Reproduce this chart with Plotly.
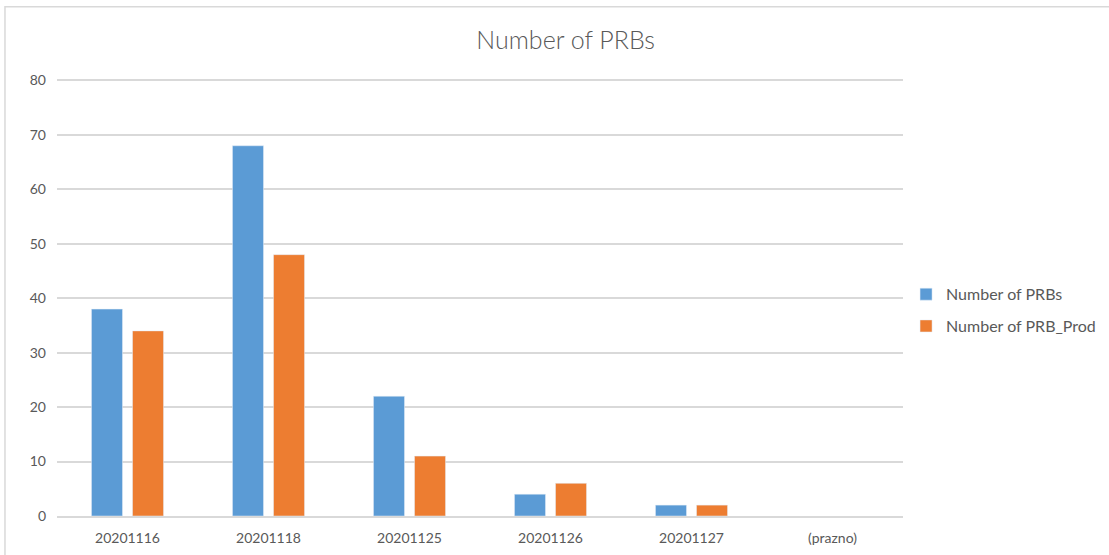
"""Number of PRBs per date, clustered bars in Excel style."""

import plotly.graph_objects as go

dates = ["20201116", "20201118", "20201125", "20201126", "20201127", "(prazno)"]
prbs = [38, 68, 22, 4, 2, None]
prb_prod = [34, 48, 11, 6, 2, None]

text_grey = "#595959"
grid_grey = "#D9D9D9"

fig = go.Figure()
fig.add_trace(go.Bar(x=dates, y=prbs, name="Number of PRBs",
                     marker_color="#5B9BD5", legendgroup="a"))
fig.add_trace(go.Bar(x=dates, y=prb_prod, name="Number of PRB_Prod",
                     marker_color="#ED7D31", legendgroup="b"))

# outer chart frame, as in the spreadsheet screenshot
fig.add_shape(
    type="rect", xref="paper", yref="paper",
    x0=-0.0615, x1=1.4, y0=-0.3, y1=1.155,
    line=dict(color=grid_grey, width=1.5), layer="below",
)

fig.update_layout(
    width=1109,
    height=555,
    title=dict(
        text="Number of PRBs", x=0.51, xanchor="center", y=0.928, yanchor="middle",
        font=dict(size=25, color=text_grey, weight=300),
    ),
    font=dict(family="Lato, Noto Sans, sans-serif", size=14, color=text_grey),
    barmode="group",
    bargap=0.418,
    bargroupgap=0.244,
    plot_bgcolor="white",
    paper_bgcolor="white",
    margin=dict(l=57, r=206, t=75, b=39),
    xaxis=dict(
        showgrid=False, showline=True, linecolor=grid_grey, linewidth=1.5,
        ticks="", ticklabelstandoff=8, automargin=False,
    ),
    yaxis=dict(
        range=[0, 81], tickvals=[0, 10, 20, 30, 40, 50, 60, 70, 80],
        showgrid=True, gridcolor=grid_grey, gridwidth=1.5,
        zeroline=False, showline=False, ticks="", ticklabelstandoff=10,
        automargin=False,
    ),
    legend=dict(
        xref="container", yref="container",
        x=0.817, xanchor="left", y=0.441, yanchor="middle",
        font=dict(size=16, color=text_grey), tracegroupgap=8, itemwidth=30,
    ),
)

fig.write_html(
    "out.html",
    config={"displayModeBar": False},
    post_script="document.body.style.margin='0px';",
)
